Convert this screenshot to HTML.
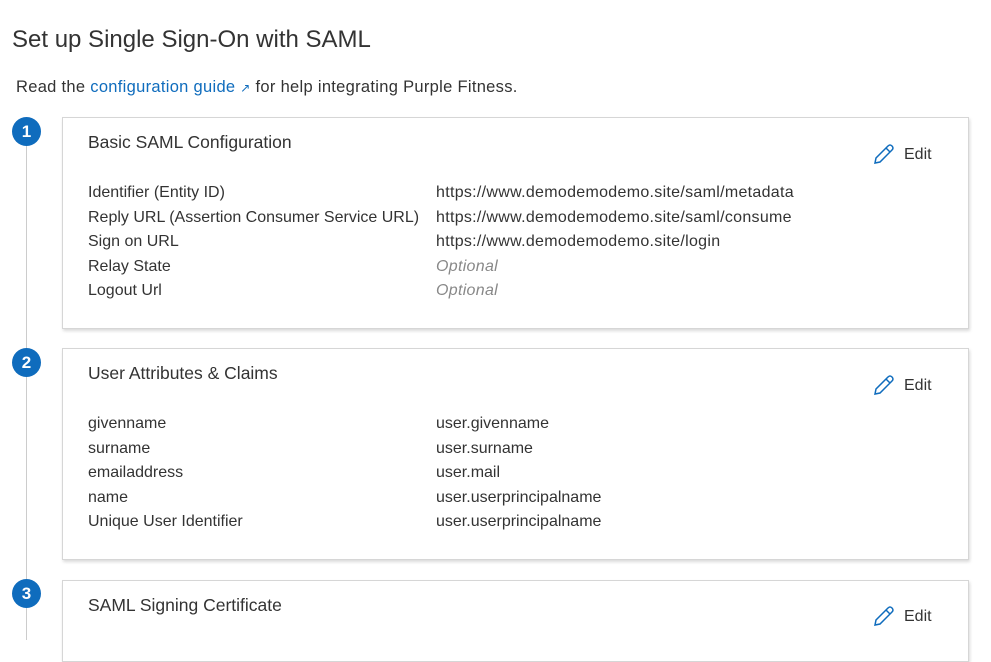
<!DOCTYPE html><html><head><style>
body{margin:0;width:991px;height:629px;overflow:hidden;background:#fff;font-family:"Liberation Sans",sans-serif;color:#333;position:relative}
.a{position:absolute;white-space:nowrap}
.card{position:absolute;left:62px;width:905px;border:1px solid #d6d6d6;box-shadow:1px 2px 3px rgba(0,0,0,.15);background:#fff}
.num{position:absolute;left:12px;width:29px;height:29px;border-radius:50%;background:#0f6cbd;color:#fff;font-weight:bold;font-size:17px;text-align:center;line-height:29px}
.h{font-size:17.5px;color:#333}
.t{font-size:16px;color:#333}
.o{font-style:italic;color:#888}
.e{font-size:16px}
</style></head><body>
<div class="a" style="left:12px;top:26px;font-size:24px;color:#333">Set up Single Sign-On with SAML</div>
<div class="a t" style="left:16px;top:78px;font-size:16.5px;letter-spacing:0.3px">Read the <span style="color:#0f6cbd">configuration guide <span style="font-size:12px">↗</span></span> for help integrating Purple Fitness.</div>
<div style="position:absolute;left:26px;top:140px;width:1px;height:500px;background:#ccc"></div>
<div class="card" style="top:117px;height:210px"></div>
<div class="card" style="top:348px;height:210px"></div>
<div class="card" style="top:580px;height:80px"></div>
<div class="num" style="top:117px">1</div>
<div class="num" style="top:348px">2</div>
<div class="num" style="top:579px">3</div>
<div class="a h" style="left:88px;top:132px">Basic SAML Configuration</div>
<div class="a h" style="left:88px;top:363px">User Attributes &amp; Claims</div>
<div class="a h" style="left:88px;top:595px">SAML Signing Certificate</div>
<div class="a t" style="left:88px;top:181px;line-height:24.5px">Identifier (Entity ID)<br>Reply URL (Assertion Consumer Service URL)<br>Sign on URL<br>Relay State<br>Logout Url</div>
<div class="a t" style="left:436px;top:181px;line-height:24.5px;letter-spacing:0.3px">https://www.demodemodemo.site/saml/metadata<br>https://www.demodemodemo.site/saml/consume<br>https://www.demodemodemo.site/login<br><span class="o">Optional</span><br><span class="o">Optional</span></div>
<div class="a t" style="left:88px;top:412px;line-height:24.5px">givenname<br>surname<br>emailaddress<br>name<br>Unique User Identifier</div>
<div class="a t" style="left:436px;top:412px;line-height:24.5px">user.givenname<br>user.surname<br>user.mail<br>user.userprincipalname<br>user.userprincipalname</div>
<svg style="position:absolute;left:873px;top:143px" width="22" height="22" viewBox="0 0 22 22"><path d="M2 20 L3 15 L15 3 Q17 1 19 3 Q21 5 19 7 L7 19 Z M13 5 L17 9" fill="none" stroke="#0f6cbd" stroke-width="1.5"/></svg>
<div class="a e" style="left:904px;top:146px">Edit</div>
<svg style="position:absolute;left:873px;top:374px" width="22" height="22" viewBox="0 0 22 22"><path d="M2 20 L3 15 L15 3 Q17 1 19 3 Q21 5 19 7 L7 19 Z M13 5 L17 9" fill="none" stroke="#0f6cbd" stroke-width="1.5"/></svg>
<div class="a e" style="left:904px;top:377px">Edit</div>
<svg style="position:absolute;left:873px;top:605px" width="22" height="22" viewBox="0 0 22 22"><path d="M2 20 L3 15 L15 3 Q17 1 19 3 Q21 5 19 7 L7 19 Z M13 5 L17 9" fill="none" stroke="#0f6cbd" stroke-width="1.5"/></svg>
<div class="a e" style="left:904px;top:608px">Edit</div>
</body></html>
